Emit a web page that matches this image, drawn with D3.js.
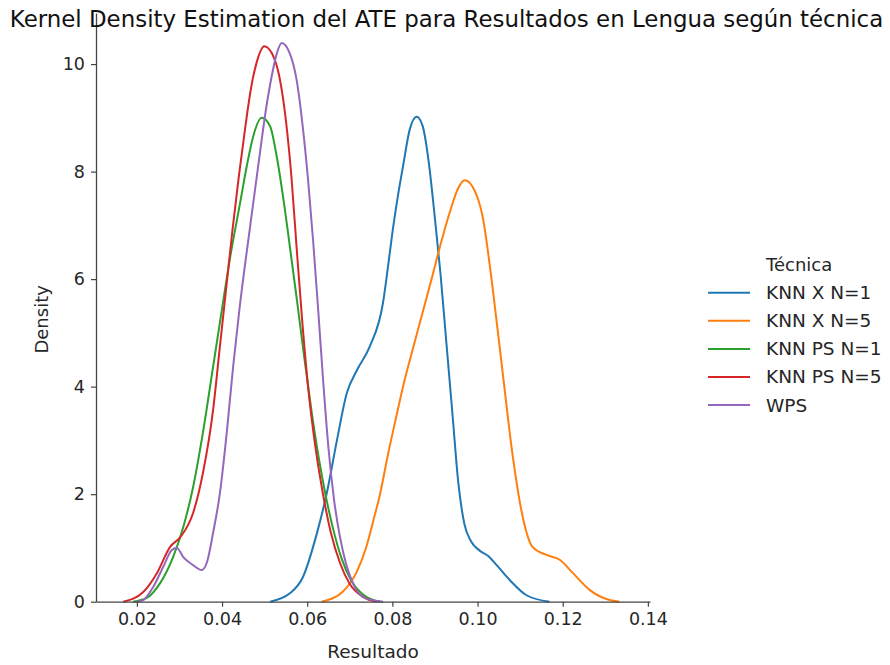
<!DOCTYPE html>
<html>
<head>
<meta charset="utf-8">
<script src="https://cdn.jsdelivr.net/npm/d3@7"></script>
<style>
    body { margin: 0; background: #fff; }
    text { font-family: "DejaVu Sans", sans-serif; }
</style>
</head>
<body>
<div id="chart"></div>
<script>
// series: [resultado, density]
const techniques = ["KNN X N=1", "KNN X N=5", "KNN PS N=1", "KNN PS N=5", "WPS"];
const colors = ["#1f77b4", "#ff7f0e", "#2ca02c", "#d62728", "#9467bd"];

const knn_x_n1 = [
    [0.0513, 0], [0.0560, 0.16], [0.0590, 0.46], [0.0623, 1.28], [0.0646, 2.02], [0.0670, 3.01],
    [0.0693, 3.88], [0.0717, 4.31], [0.0747, 4.75], [0.0778, 5.56], [0.0790, 6.25], [0.0801, 6.92],
    [0.0813, 7.55], [0.0825, 8.10], [0.0841, 8.79], [0.0857, 9.02], [0.0871, 8.85], [0.0885, 8.20],
    [0.0899, 7.20], [0.0913, 6.10], [0.0927, 4.80], [0.0941, 3.50], [0.0955, 2.20], [0.0969, 1.45],
    [0.0985, 1.12], [0.1005, 0.95], [0.1025, 0.85], [0.1045, 0.68], [0.1076, 0.40], [0.1115, 0.12],
    [0.1169, 0]
];
const knn_x_n5 = [
    [0.0634, 0], [0.0684, 0.19], [0.0716, 0.55], [0.0738, 1.00], [0.0755, 1.50], [0.0771, 2.00],
    [0.0790, 2.75], [0.0808, 3.40], [0.0825, 4.00], [0.0848, 4.70], [0.0870, 5.35], [0.0892, 6.00],
    [0.0915, 6.70], [0.0937, 7.30], [0.0955, 7.70], [0.0970, 7.84], [0.0989, 7.71], [0.1012, 7.16],
    [0.1036, 5.80], [0.1059, 4.26], [0.1083, 2.69], [0.1106, 1.58], [0.1129, 1.02], [0.1162, 0.87],
    [0.1193, 0.78], [0.1223, 0.54], [0.1263, 0.22], [0.1310, 0.03], [0.1333, 0]
];
const knn_ps_n1 = [
    [0.0191, 0], [0.0223, 0.07], [0.0255, 0.35], [0.0285, 0.83], [0.0309, 1.39], [0.0332, 2.13],
    [0.0355, 3.14], [0.0379, 4.37], [0.0399, 5.40], [0.0420, 6.45], [0.0442, 7.40], [0.0458, 8.10],
    [0.0473, 8.65], [0.0493, 9.00], [0.0513, 8.84], [0.0528, 8.30], [0.0543, 7.55], [0.0559, 6.62],
    [0.0576, 5.60], [0.0593, 4.55], [0.0610, 3.55], [0.0627, 2.68], [0.0644, 1.95], [0.0661, 1.35],
    [0.0680, 0.82], [0.0703, 0.40], [0.0735, 0.11], [0.0771, 0]
];
const knn_ps_n5 = [
    [0.0168, 0], [0.0215, 0.18], [0.0247, 0.53], [0.0278, 1.02], [0.0302, 1.20], [0.0332, 1.65],
    [0.0355, 2.39], [0.0379, 3.57], [0.0395, 4.75], [0.0410, 5.85], [0.0425, 6.95], [0.0440, 7.95],
    [0.0455, 8.85], [0.0468, 9.55], [0.0482, 10.05], [0.0499, 10.33], [0.0517, 10.20], [0.0535, 9.75],
    [0.0550, 8.95], [0.0563, 7.90], [0.0575, 6.60], [0.0588, 5.25], [0.0602, 4.00], [0.0618, 2.95],
    [0.0636, 2.05], [0.0655, 1.30], [0.0677, 0.72], [0.0700, 0.33], [0.0731, 0.09], [0.0764, 0]
];
const wps = [
    [0.0200, 0], [0.0215, 0.03], [0.0238, 0.27], [0.0262, 0.65], [0.0282, 0.96], [0.0294, 1.00],
    [0.0309, 0.83], [0.0332, 0.68], [0.0352, 0.59], [0.0364, 0.72], [0.0379, 1.28], [0.0395, 2.02],
    [0.0411, 3.14], [0.0426, 4.37], [0.0441, 5.45], [0.0457, 6.45], [0.0473, 7.40], [0.0489, 8.35],
    [0.0503, 9.15], [0.0516, 9.75], [0.0528, 10.18], [0.0540, 10.39], [0.0559, 10.20], [0.0575, 9.71],
    [0.0590, 8.80], [0.0602, 7.85], [0.0614, 6.70], [0.0626, 5.40], [0.0638, 4.05], [0.0650, 2.85],
    [0.0663, 1.90], [0.0677, 1.20], [0.0692, 0.68], [0.0710, 0.30], [0.0735, 0.07], [0.0778, 0]
];
const series = [knn_x_n1, knn_x_n5, knn_ps_n1, knn_ps_n5, wps];

const x_ticks = [0.02, 0.04, 0.06, 0.08, 0.10, 0.12, 0.14];
const y_ticks = [0, 2, 4, 6, 8, 10];
const x_domain = [0.0104, 0.1405];
const y_domain = [0, 10.95];

const width = 890, height = 665;
const plot = { left: 96, right: 650, top: 13, bottom: 601.7 };

const svg = d3.select("#chart")
    .append("svg")
    .attr("width", width)
    .attr("height", height);

const x = d3.scaleLinear().domain(x_domain).range([plot.left, plot.right]);
const y = d3.scaleLinear().domain(y_domain).range([plot.bottom, plot.top]);

const line = d3.line()
    .x(d => x(d[0]))
    .y(d => y(d[1]))
    .curve(d3.curveMonotoneX);

svg.selectAll(".kde")
    .data(series)
    .enter().append("path")
    .attr("class", "kde")
    .attr("fill", "none")
    .attr("stroke", (d, i) => colors[i])
    .attr("stroke-width", 2)
    .attr("d", line);

// axes
const xAxis = svg.append("g")
    .attr("transform", `translate(0,${plot.bottom})`)
    .call(d3.axisBottom(x).tickValues(x_ticks).tickFormat(d3.format(".2f")).tickSize(5).tickPadding(6).tickSizeOuter(0));
const yAxis = svg.append("g")
    .attr("transform", `translate(${plot.left},0)`)
    .call(d3.axisLeft(y).tickValues(y_ticks).tickFormat(d3.format("d")).tickSize(5).tickPadding(6).tickSizeOuter(0));

[xAxis, yAxis].forEach(g => {
    g.select(".domain").attr("stroke", "#444").attr("stroke-width", 1.3);
    g.selectAll(".tick line").attr("stroke", "#444").attr("stroke-width", 1.2);
    g.selectAll(".tick text")
        .style("font-size", "17.5px")
        .style("font-family", "DejaVu Sans, sans-serif")
        .attr("fill", "#262626");
});

svg.append("text")
    .attr("x", (plot.left + plot.right) / 2)
    .attr("y", 658)
    .attr("text-anchor", "middle")
    .style("font-size", "18.5px")
    .attr("fill", "#262626")
    .text("Resultado");

svg.append("text")
    .attr("transform", `translate(48,${(plot.top + plot.bottom) / 2 + 12}) rotate(-90)`)
    .attr("text-anchor", "middle")
    .style("font-size", "18px")
    .attr("fill", "#262626")
    .text("Density");

svg.append("text")
    .attr("x", 446.5)
    .attr("y", 27)
    .attr("text-anchor", "middle")
    .style("font-size", "22.9px")
    .attr("fill", "#111")
    .text("Kernel Density Estimation del ATE para Resultados en Lengua según técnica");

// legend
const legend = svg.append("g").attr("transform", "translate(708,0)");
legend.append("text")
    .attr("x", 58)
    .attr("y", 271)
    .style("font-size", "18px")
    .attr("fill", "#262626")
    .text("Técnica");

const rows = legend.selectAll(".row")
    .data(techniques)
    .enter().append("g")
    .attr("class", "row")
    .attr("transform", (d, i) => `translate(0,${292.7 + i * 28.1})`);
rows.append("line")
    .attr("x1", 0).attr("x2", 42)
    .attr("stroke", (d, i) => colors[i])
    .attr("stroke-width", 2);
rows.append("text")
    .attr("x", 58)
    .attr("dy", "0.35em")
    .style("font-size", "18.5px")
    .attr("fill", "#262626")
    .text(d => d);
</script>
</body>
</html>
